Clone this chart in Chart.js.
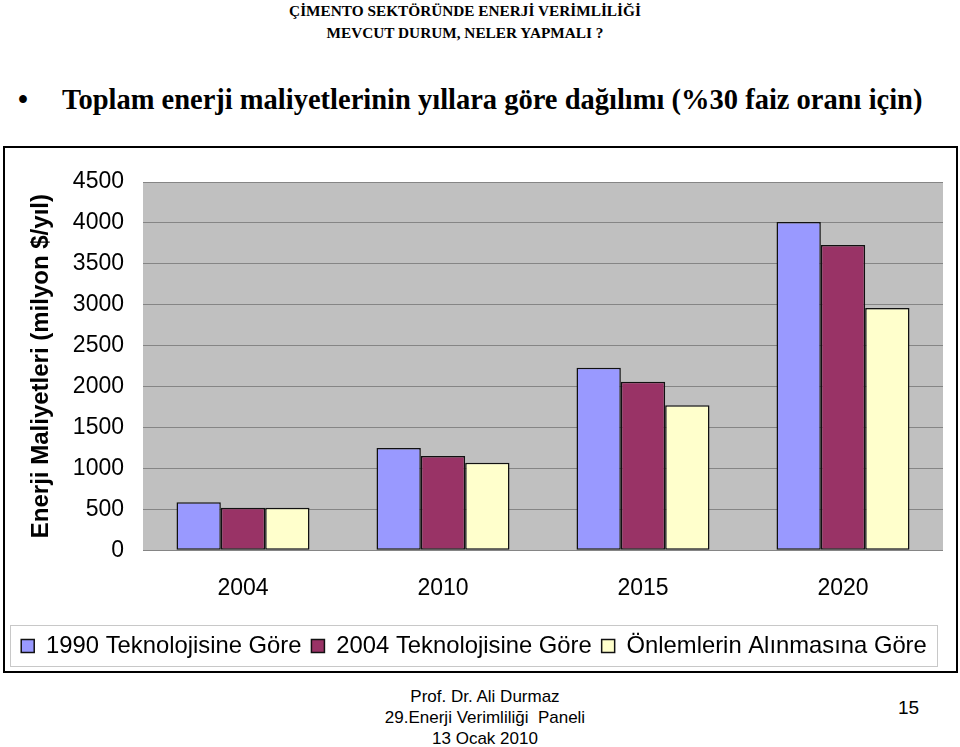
<!DOCTYPE html>
<html>
<head>
<meta charset="utf-8">
<script src="https://cdn.jsdelivr.net/npm/chart.js@4.4.1/dist/chart.umd.min.js"></script>
<style>
    body { margin: 0; background: #fff; }
    #page { position: relative; width: 960px; height: 747px; overflow: hidden; background: #fff; }
    .head { position: absolute; left: 0; width: 930px; text-align: center; font-family: "Liberation Serif", "Times New Roman", serif; font-weight: bold; font-size: 15.3px; }
    #title { position: absolute; left: 18px; top: 84px; font-family: "Liberation Serif", "Times New Roman", serif; font-weight: bold; font-size: 28.5px; white-space: nowrap; }
    #title .dot { display: inline-block; width: 44px; }
    #frame { position: absolute; left: 3px; top: 146px; width: 951px; height: 523px; border: 2px solid #000; }
    .foot { position: absolute; left: 335px; width: 300px; text-align: center; font-family: "Liberation Sans", Arial, sans-serif; font-size: 17px; }
    #num { position: absolute; left: 898px; top: 697px; font-family: "Liberation Sans", Arial, sans-serif; font-size: 19px; }
</style>
</head>
<body>
<div id="page">
    <div class="head" style="top:2px">ÇİMENTO SEKTÖRÜNDE ENERJİ VERİMLİLİĞİ</div>
    <div class="head" style="top:24px">MEVCUT DURUM, NELER YAPMALI ?</div>
    <div id="title"><span class="dot">•</span>Toplam enerji maliyetlerinin yıllara göre dağılımı (%30 faiz oranı için)</div>
    <div id="frame"><canvas id="chart"></canvas></div>
    <div class="foot" style="top:687px">Prof. Dr. Ali Durmaz</div>
    <div class="foot" style="top:708px">29.Enerji Verimliliği&nbsp; Paneli</div>
    <div class="foot" style="top:729px">13 Ocak 2010</div>
    <div id="num">15</div>
</div>
<script>
const years = ['2004', '2010', '2015', '2020'];
const tech1990 = [585, 1250, 2230, 4010];
const tech2004 = [520, 1150, 2060, 3730];
const measures = [520, 1070, 1770, 2960];
const seriesNames = ['1990 Teknolojisine Göre', '2004 Teknolojisine Göre', 'Önlemlerin Alınmasına Göre'];
const axisTitle = 'Enerji Maliyetleri (milyon $/yıl)';

const FONT = '"Liberation Sans", Arial, sans-serif';

// grey plot area like old excel charts
const plotBg = {
    id: 'plotBg',
    beforeDraw(chart) {
        const a = chart.chartArea;
        const c = chart.ctx;
        c.save();
        c.fillStyle = '#c0c0c0';
        c.fillRect(a.left, a.top, a.right - a.left, a.bottom - a.top);
        c.restore();
    }
};

// thin box around the legend
const legendBox = {
    id: 'legendBox',
    afterDraw(chart) {
        const lg = chart.legend;
        if (!lg || !lg.legendHitBoxes.length) return;
        const boxes = lg.legendHitBoxes;
        const x0 = Math.min(...boxes.map(b => b.left)) - 11;
        const x1 = Math.max(...boxes.map(b => b.left + b.width)) + 10;
        const y0 = Math.min(...boxes.map(b => b.top)) - 9;
        const y1 = Math.max(...boxes.map(b => b.top + b.height)) + 8;
        const c = chart.ctx;
        c.save();
        c.strokeStyle = '#c8c8c8';
        c.lineWidth = 1;
        c.strokeRect(Math.round(x0) + 0.5, Math.round(y0) + 0.5, Math.round(x1 - x0), Math.round(y1 - y0));
        c.restore();
    }
};

function bar(label, data, color) {
    return {
        label: label,
        data: data,
        backgroundColor: color,
        borderColor: '#111',
        borderWidth: 1.5,
        borderSkipped: false
    };
}

new Chart(document.getElementById('chart'), {
    type: 'bar',
    data: {
        labels: years,
        datasets: [
            bar(seriesNames[0], tech1990, '#9999ff'),
            bar(seriesNames[1], tech2004, '#993366'),
            bar(seriesNames[2], measures, '#ffffcc')
        ]
    },
    options: {
        responsive: true,
        maintainAspectRatio: false,
        animation: false,
        layout: { padding: { top: 34, right: 13, left: 0, bottom: 3 } },
        datasets: { bar: { barPercentage: 1, categoryPercentage: 0.665 } },
        scales: {
            x: {
                grid: { display: false, drawTicks: false },
                border: { display: false },
                ticks: { color: '#000', font: { family: FONT, size: 23 }, padding: 25 },
                afterFit(s) { s.height = 74; }
            },
            y: {
                min: 0,
                max: 4500,
                grid: { color: '#858585', lineWidth: 1, drawTicks: false },
                border: { display: false },
                ticks: {
                    stepSize: 500,
                    color: '#000',
                    font: { family: FONT, size: 23 },
                    padding: 19,
                    callback: v => String(v)
                },
                title: {
                    display: true,
                    text: axisTitle,
                    color: '#000',
                    font: { family: FONT, size: 24, weight: 'bold' },
                    padding: { top: 22, bottom: 4 }
                },
                afterFit(s) { s.width = 138; }
            }
        },
        plugins: {
            legend: {
                position: 'bottom',
                labels: {
                    color: '#000',
                    font: { family: FONT, size: 23.8 },
                    boxWidth: 13,
                    boxHeight: 13,
                    padding: 10
                }
            },
            tooltip: { enabled: false }
        }
    },
    plugins: [plotBg, legendBox]
});
</script>
</body>
</html>
